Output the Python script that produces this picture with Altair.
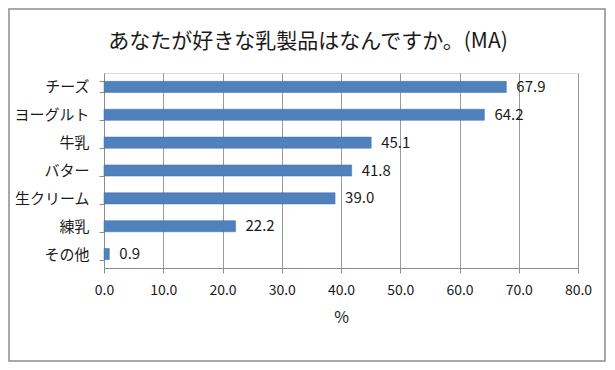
import altair as alt
import pandas as pd

categories = ["チーズ", "ヨーグルト", "牛乳", "バター", "生クリーム", "練乳", "その他"]
values = [67.9, 64.2, 45.1, 41.8, 39.0, 22.2, 0.9]
x_ticks = [0, 10, 20, 30, 40, 50, 60, 70, 80]
title_text = "あなたが好きな乳製品はなんですか。(MA)"

df = pd.DataFrame({"item": categories, "pct": values})

FONT = "Noto Sans CJK JP"
W, H = 474, 195

base = alt.Chart(df)

bars = base.mark_bar(color="#4F81BD", stroke="#3F6FA8", strokeWidth=0.5).encode(
    x=alt.X("pct:Q", scale=alt.Scale(domain=[0, 80], nice=False),
            axis=alt.Axis(values=x_ticks, format=".1f", title="%", grid=True,
                          gridColor="#9A9A9A", gridWidth=1, labelFlush=False,
                          domainColor="#8C8C8C", tickColor="#8C8C8C", tickSize=5,
                          labelFont=FONT, labelFontSize=14, labelColor="#1A1A1A",
                          labelPadding=10,
                          titleFont=FONT, titleFontSize=16, titleFontWeight="normal",
                          titleColor="#1A1A1A", titlePadding=12)),
    y=alt.Y("item:N", sort=categories,
            scale=alt.Scale(paddingInner=0.6, paddingOuter=0.3),
            axis=alt.Axis(title=None, tickBand="extent", grid=False,
                          domainColor="#8C8C8C", tickColor="#8C8C8C", tickSize=5,
                          labelFont=FONT, labelFontSize=15, labelColor="#1A1A1A",
                          labelPadding=10)),
)

labels = base.mark_text(align="left", baseline="middle", dx=10, font=FONT,
                        fontSize=15, color="#1A1A1A").encode(
    x="pct:Q",
    y=alt.Y("item:N", sort=categories),
    text=alt.Text("pct:Q", format=".1f"),
)

title = alt.Chart(pd.DataFrame({"t": [title_text]})).mark_text(
    font=FONT, fontSize=21, color="#1A1A1A", align="center", baseline="middle").encode(
    x=alt.value(204), y=alt.value(-31), text="t:N")

border = alt.Chart(pd.DataFrame({"a": [0]})).mark_rect(
    fill=None, stroke="#8C8C8C", strokeWidth=1.5).encode(
    x=alt.value(-95), x2=alt.value(W + 27),
    y=alt.value(-64), y2=alt.value(H + 93),
)

chart = alt.layer(bars, labels, title, border).properties(
    width=W, height=H,
    autosize="none",
    padding={"left": 96, "top": 65, "right": 28, "bottom": 94},
).configure_view(stroke=None).configure(background="white")

chart.save("out.html", embed_options={"renderer": "svg", "actions": False})
